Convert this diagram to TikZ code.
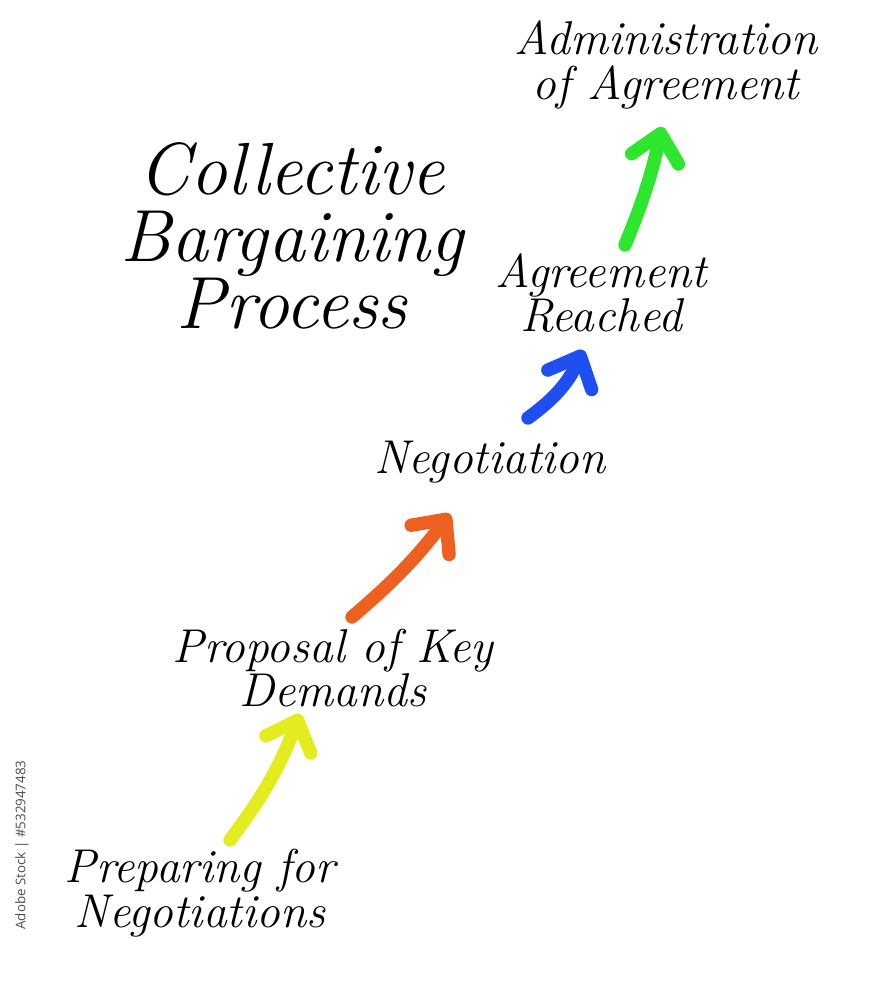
\documentclass[tikz,border=0pt]{standalone}
\usepackage{fontspec}
\newfontfamily\wmfont{Open Sans}
\usetikzlibrary{arrows.meta}
\definecolor{cbgreen}{HTML}{2EE62E}
\definecolor{cbblue}{HTML}{1F4FF0}
\definecolor{cborange}{HTML}{EE6020}
\definecolor{cbyellow}{HTML}{E2EC1E}
\begin{document}
\begin{tikzpicture}[lbl/.style={align=center, inner sep=0pt, font=\fontsize{13.5}{12.6}\selectfont\itshape},
  arr/.style={line width=3.8pt, line cap=round, -{Straight Barb[length=2.6mm, width=4.8mm, round]}}]
\useasboundingbox (0,0) rectangle (8.9,10);
\node[align=center, inner sep=0pt, font=\fontsize{21}{19}\selectfont\itshape] (t) at (2.92,7.64) {Collective\\Bargaining\\Process};
\node[lbl] (a) at (6.66,9.35) {Administration\\of Agreement};
\node[lbl] (r) at (6.01,7.07) {Agreement\\Reached};
\node[lbl] (n) at (4.90,5.38) {Negotiation};
\node[lbl] (k) at (3.33,3.32) {Proposal of Key\\Demands};
\node[lbl] (p) at (2.00,1.07) {Preparing for\\Negotiations};
\node[rotate=90, inner sep=0pt, text=black!70, font=\fontsize{3.8}{4}\selectfont\wmfont] (w) at (0.22,1.55) {Adobe Stock | \#532947483};
\coordinate (p1) at (2.30,1.60);
\coordinate (k0) at (3.00,2.86);
\coordinate (k1) at (3.52,3.83);
\coordinate (n0) at (4.50,4.86);
\coordinate (n1) at (5.28,5.82);
\coordinate (r0) at (5.83,6.50);
\coordinate (r1) at (6.25,7.55);
\coordinate (a0) at (6.62,8.73);
\draw[arr, cbyellow] (p1) to[bend right=8] (k0);
\draw[arr, cborange] (k1) to[bend right=6] (n0);
\draw[arr, cbblue] (n1) to[bend right=15] (r0);
\draw[arr, cbgreen] (r1) to[bend right=5] (a0);
\end{tikzpicture}
\end{document}
